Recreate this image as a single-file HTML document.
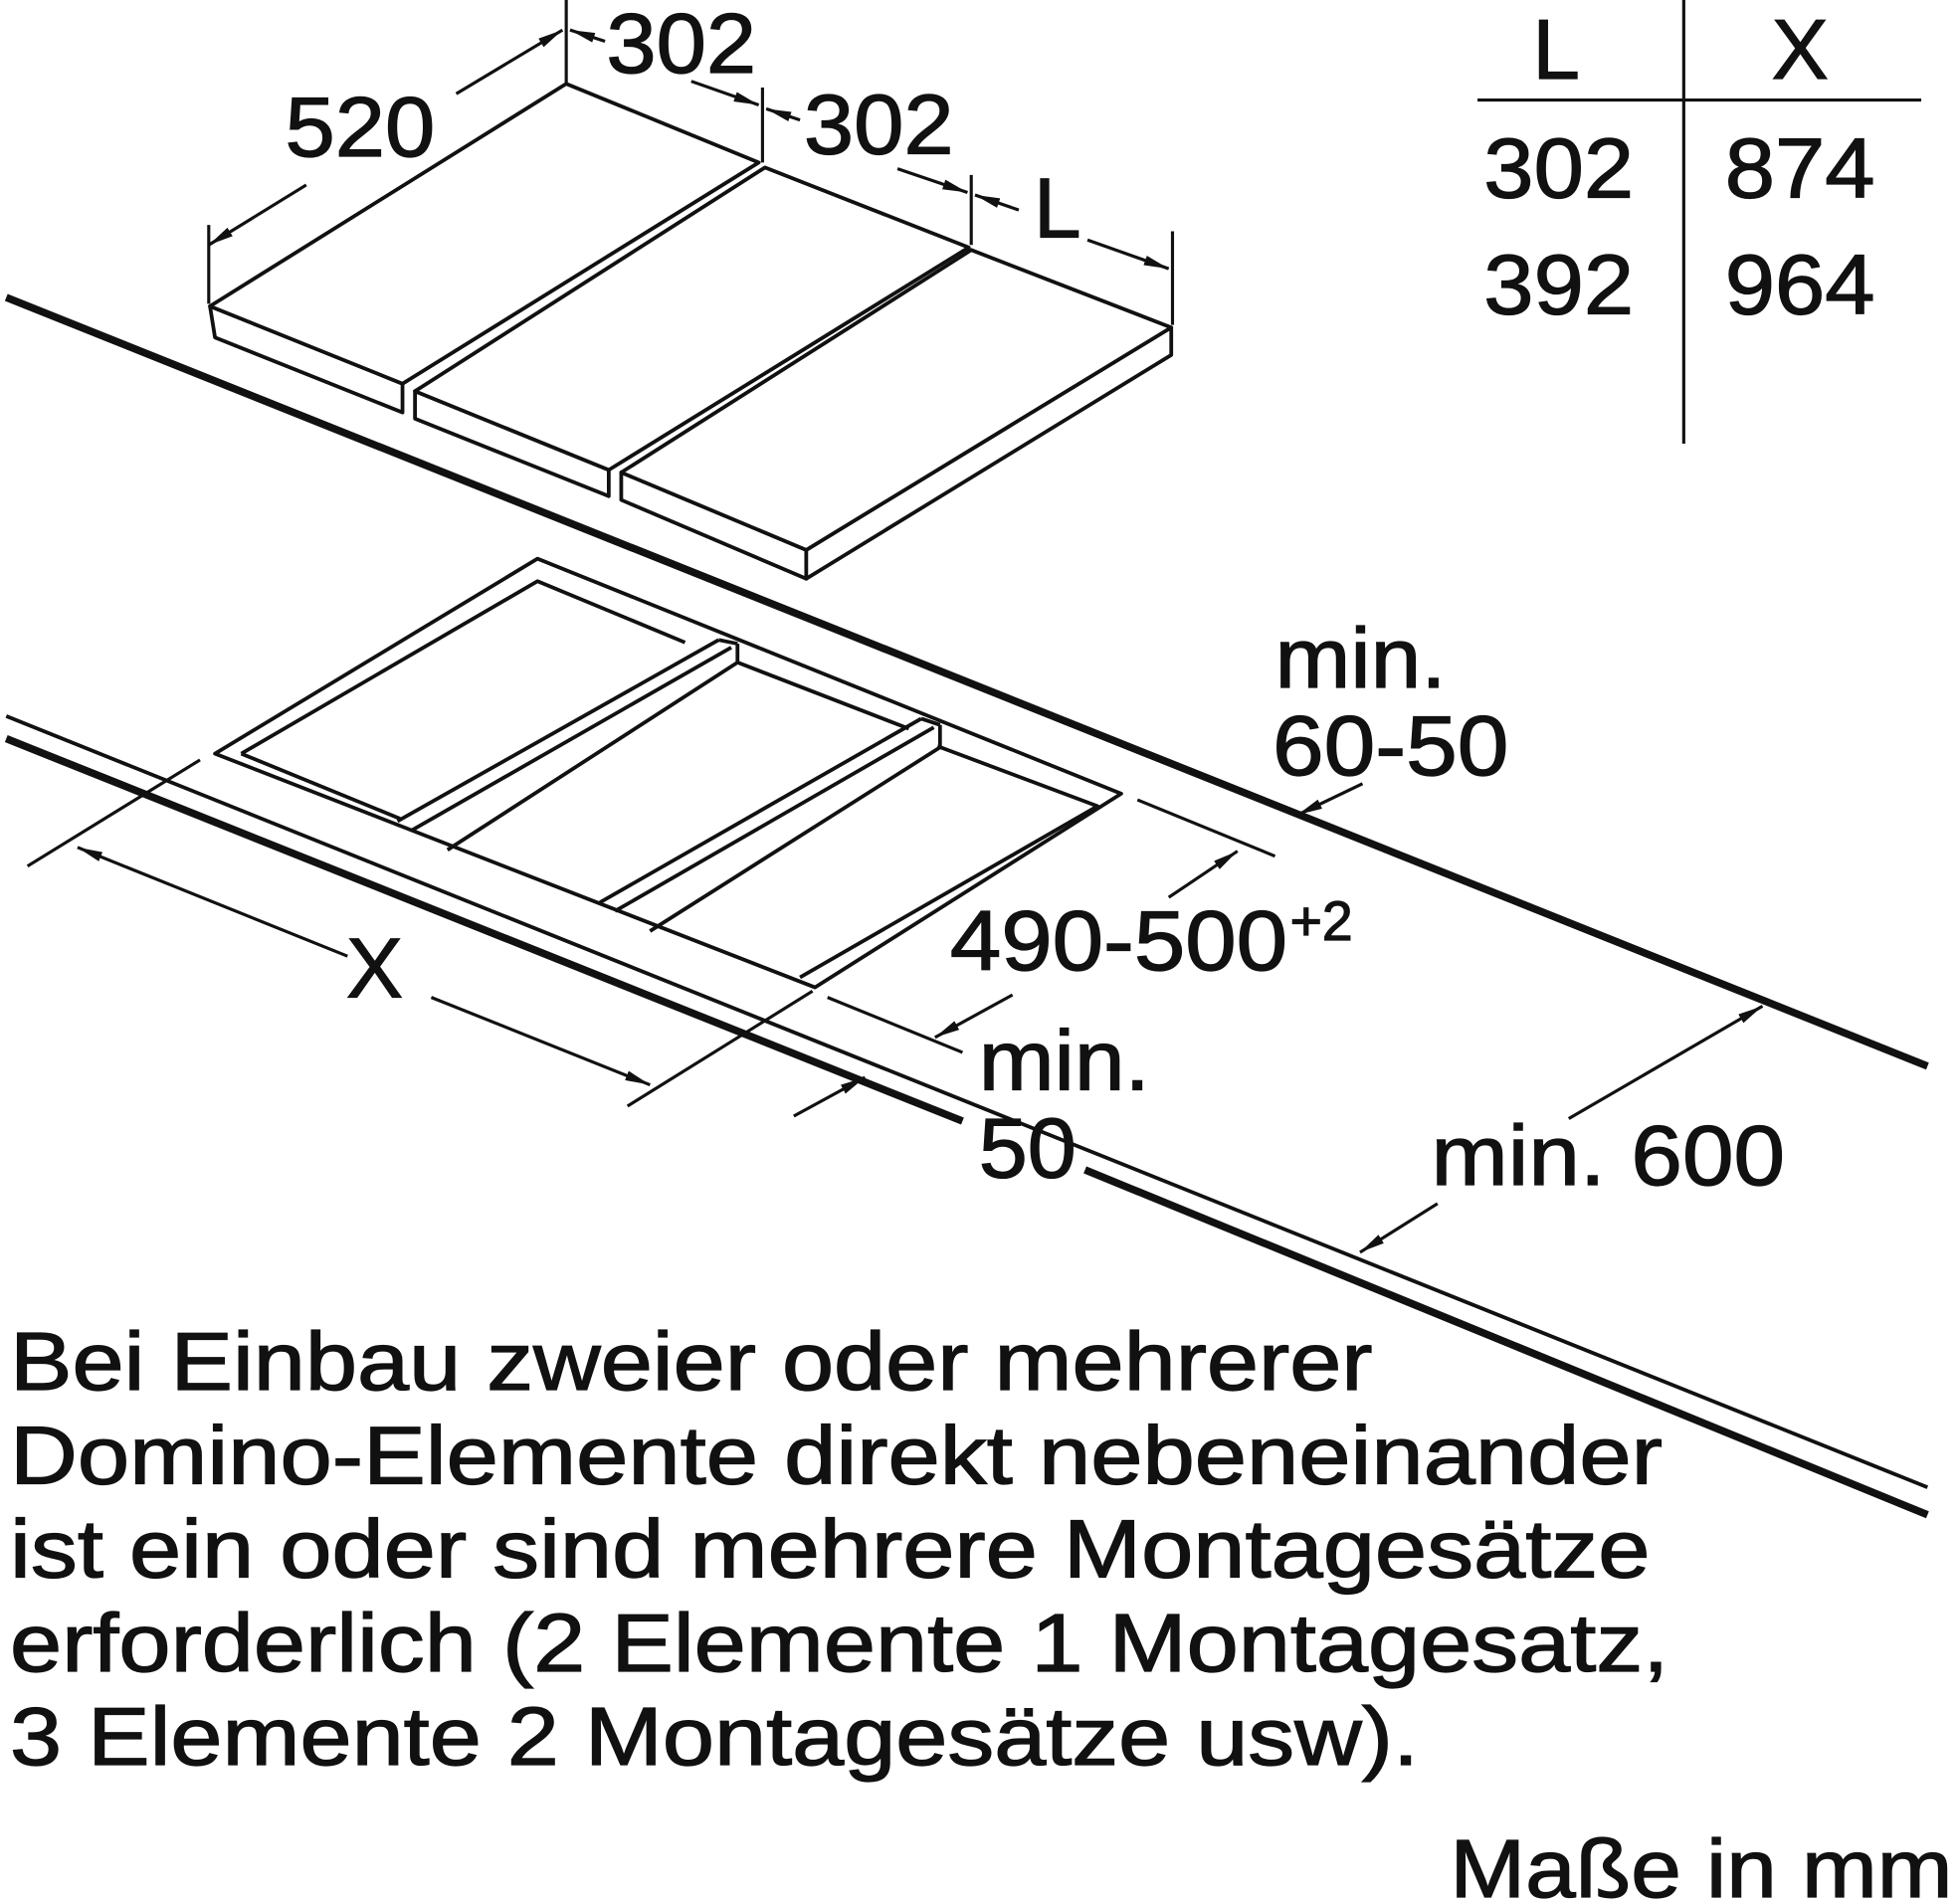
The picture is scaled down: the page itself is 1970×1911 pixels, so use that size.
<!DOCTYPE html>
<html><head><meta charset="utf-8"><style>
html,body{margin:0;padding:0;background:#fff}
svg{display:block}
text{font-family:"Liberation Sans",sans-serif;fill:#111}
</style></head><body>
<svg width="1970" height="1911" viewBox="0 0 1568 1521" xmlns="http://www.w3.org/2000/svg">
<defs>
<marker id="b" viewBox="0 0 20 10" refX="20" refY="5" markerWidth="20" markerHeight="10" orient="auto-start-reverse" markerUnits="userSpaceOnUse"><path d="M0,1 L20,5 L0,9 z" fill="#111"/></marker>
</defs>
<g stroke="#111" fill="none" stroke-linecap="butt">
<line x1="5" y1="238" x2="1542" y2="853" stroke-width="6"/>
<line x1="5" y1="573" x2="1542" y2="1190" stroke-width="3"/>
<line x1="5" y1="591" x2="770" y2="897" stroke-width="6"/>
<line x1="868" y1="936" x2="1542" y2="1212" stroke-width="6"/>

<g fill="#fff" stroke-width="3" stroke-linejoin="round">
<polygon points="168,245 322,307 322,330 172,270"/>
<polygon points="168,245 453,67 607,130 322,307"/>
<polygon points="332,313 487,376 487,397 332,335"/>
<polygon points="332,313 612,134 775,198 487,376"/>
<polygon points="497,378 645,440 645,463 497,400"/>
<polygon points="645,440 937,262 937,284 645,463"/>
<polygon points="497,378 777,200 937,262 645,440"/>
</g>

<g stroke-width="3" stroke-linejoin="round">
<polygon points="430,447 897,635 652,790 172,603"/>
<polyline points="193,603 430,465 548,514"/>
<polyline points="590,530 727,583"/>
<polyline points="750,597 878,645 640,782"/>
<line x1="193" y1="603" x2="320" y2="655"/>
<line x1="318" y1="657" x2="575" y2="512"/>
<line x1="330" y1="664" x2="585" y2="518"/>
<line x1="358" y1="680" x2="590" y2="530"/>
<line x1="575" y1="512" x2="590" y2="515"/>
<line x1="590" y1="515" x2="590" y2="530"/>
<line x1="480" y1="722" x2="737" y2="575"/>
<line x1="492" y1="729" x2="747" y2="582"/>
<line x1="520" y1="745" x2="752" y2="598"/>
<line x1="737" y1="575" x2="752" y2="580"/>
<line x1="752" y1="580" x2="752" y2="598"/>
</g>

<g stroke-width="2.5">
<line x1="167" y1="180" x2="167" y2="243"/>
<line x1="453" y1="0" x2="453" y2="67"/>
<line x1="610" y1="70" x2="610" y2="130"/>
<line x1="777" y1="140" x2="777" y2="196"/>
<line x1="938" y1="185" x2="938" y2="260"/>
<line x1="245" y1="148" x2="167" y2="196" marker-end="url(#b)"/>
<line x1="365" y1="75" x2="450" y2="24" marker-end="url(#b)"/>
<line x1="484" y1="33" x2="456" y2="24" marker-end="url(#b)"/>
<line x1="553" y1="65" x2="607" y2="84" marker-end="url(#b)"/>
<line x1="640" y1="96" x2="613" y2="87" marker-end="url(#b)"/>
<line x1="718" y1="135" x2="774" y2="154" marker-end="url(#b)"/>
<line x1="815" y1="168" x2="780" y2="156" marker-end="url(#b)"/>
<line x1="870" y1="192" x2="935" y2="215" marker-end="url(#b)"/>
<line x1="1182" y1="80" x2="1537" y2="80"/>
<line x1="1347" y1="0" x2="1347" y2="355"/>
<line x1="22" y1="693" x2="160" y2="608"/>
<line x1="502" y1="885" x2="650" y2="793"/>
<line x1="278" y1="765" x2="62" y2="678" marker-end="url(#b)"/>
<line x1="345" y1="798" x2="520" y2="868" marker-end="url(#b)"/>
<line x1="910" y1="640" x2="1020" y2="685"/>
<line x1="662" y1="798" x2="770" y2="842"/>
<line x1="935" y1="718" x2="990" y2="681" marker-end="url(#b)"/>
<line x1="810" y1="796" x2="748" y2="830" marker-end="url(#b)"/>
<line x1="635" y1="893" x2="692" y2="862" marker-end="url(#b)"/>
<line x1="1090" y1="627" x2="1038" y2="652" marker-end="url(#b)"/>
<line x1="1150" y1="963" x2="1088" y2="1002" marker-end="url(#b)"/>
<line x1="1255" y1="895" x2="1410" y2="805" marker-end="url(#b)"/>
</g>

<g font-size="68" lengthAdjust="spacingAndGlyphs">
<text x="228" y="125" textLength="120" lengthAdjust="spacingAndGlyphs">520</text>
<text x="485" y="58" textLength="120" lengthAdjust="spacingAndGlyphs">302</text>
<text x="643" y="123" textLength="120" lengthAdjust="spacingAndGlyphs">302</text>
<text x="827" y="190">L</text>
<text x="1245" y="63" text-anchor="middle">L</text>
<text x="1440" y="63" text-anchor="middle">X</text>
<text x="1187" y="158" textLength="120" lengthAdjust="spacingAndGlyphs">302</text>
<text x="1380" y="158" textLength="120" lengthAdjust="spacingAndGlyphs">874</text>
<text x="1187" y="251" textLength="120" lengthAdjust="spacingAndGlyphs">392</text>
<text x="1380" y="251" textLength="120" lengthAdjust="spacingAndGlyphs">964</text>
<text x="1020" y="550" textLength="137" lengthAdjust="spacingAndGlyphs">min.</text>
<text x="1018" y="620" textLength="189" lengthAdjust="spacingAndGlyphs">60-50</text>
<text x="277" y="798">X</text>
<text x="760" y="776" textLength="270" lengthAdjust="spacingAndGlyphs">490-500</text>
<text x="1032" y="752" font-size="44">+2</text>
<text x="783" y="872" textLength="137" lengthAdjust="spacingAndGlyphs">min.</text>
<text x="783" y="942" textLength="78" lengthAdjust="spacingAndGlyphs">50</text>
<text x="1145" y="948" textLength="283" lengthAdjust="spacingAndGlyphs">min. 600</text>
</g>
<g font-size="66">
<text x="8" y="1112" textLength="1090" lengthAdjust="spacingAndGlyphs">Bei Einbau zweier oder mehrerer</text>
<text x="8" y="1187" textLength="1322" lengthAdjust="spacingAndGlyphs">Domino-Elemente direkt nebeneinander</text>
<text x="8" y="1262" textLength="1312" lengthAdjust="spacingAndGlyphs">ist ein oder sind mehrere Montagesätze</text>
<text x="8" y="1337" textLength="1327" lengthAdjust="spacingAndGlyphs">erforderlich (2 Elemente 1 Montagesatz,</text>
<text x="8" y="1412" textLength="1127" lengthAdjust="spacingAndGlyphs">3 Elemente 2 Montagesätze usw).</text>
<text x="1160" y="1518" textLength="402" lengthAdjust="spacingAndGlyphs">Maße in mm</text>
</g>
</svg>
</body></html>
